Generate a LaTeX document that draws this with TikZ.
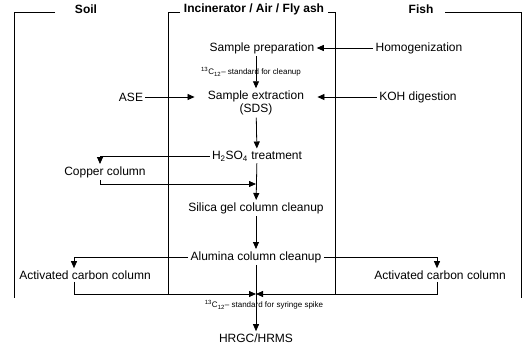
\documentclass[tikz,border=0pt]{standalone}
\usepackage{fontspec}
\setmainfont{Liberation Sans}
\usetikzlibrary{arrows.meta}

\begin{document}
\begin{tikzpicture}[x=1pt, y=-1pt, line width=.8pt,
		txt/.style={font=\fontsize{12}{13.5}\selectfont, inner sep=2pt, align=center},
		head/.style={font=\fontsize{12}{13.5}\selectfont\bfseries, inner sep=1pt},
		tiny/.style={font=\fontsize{8}{9}\selectfont, inner sep=1pt},
		arr/.style={-{Triangle[length=7pt,width=6pt]}}]
			\useasboundingbox (0,0) rectangle (528,345);
			% frames
			\node[head] (soil) at (86,9) {Soil};
			\node[head] (inc) at (254,9) {Incinerator / Air / Fly ash};
			\node[head] (fish) at (421,9) {Fish};
			\draw (55,12) -- (14,12) -- (14,298);
			\draw (180,12) -- (168,12) -- (168,294);
			\draw (328,12) -- (335,12) -- (335,294);
			\draw (445,12) -- (521,12) -- (521,298);
			
			% steps
			\node[txt] (prep) at (262,48) {Sample preparation};
			\node[txt] (homog) at (419,48) {Homogenization};
			\node[txt, inner xsep=13pt] (extr) at (256,103) {Sample extraction\\(SDS)};
			\node[txt] (ase) at (131,97) {ASE};
			\node[txt] (koh) at (418,97) {KOH digestion};
			\node[txt] (acid) at (257,156) {H\textsubscript{2}SO\textsubscript{4} treatment};
			\node[txt] (copper) at (105,172) {Copper column};
			\node[txt] (silica) at (256,208) {Silica gel column cleanup};
			\node[txt] (alumina) at (256,257) {Alumina column cleanup};
			\node[txt] (carbL) at (85,275) {Activated carbon column};
			\node[txt] (carbR) at (440,275) {Activated carbon column};
			\node[txt] (hrgc) at (256,338) {HRGC/HRMS};
			\node[tiny] (std1) at (251,72) {\textsuperscript{13}C\textsubscript{12}-- standard for cleanup};
			\node[tiny] (std2) at (264,305) {\textsuperscript{13}C\textsubscript{12}-- standard for syringe spike};
			\coordinate (merge1) at (256,184);
			\coordinate (merge2) at (256,294);
			
			% connectors
			\draw[arr] (homog) -- (prep);
			\draw[arr] (prep.south -| extr.north) -- (extr.north);
			\draw[arr] (ase) -- (extr.west |- ase);
			\draw[arr] (koh) -- (extr.east |- koh);
			\draw[arr] (extr) -- (acid);
			\draw[arr] (acid.west) -| ([xshift=-5pt]copper.north);
			\draw[arr] ([xshift=-5pt]copper.south) |- (merge1);
			\draw[arr] (acid) -- (silica);
			\draw[arr] (silica) -- (alumina);
			\draw[arr] (alumina.west) -| ([xshift=-11pt]carbL.north);
			\draw[arr] (alumina.east) -| ([xshift=-3pt]carbR.north);
			\draw[arr] ([xshift=-11pt]carbL.south) |- (merge2);
			\draw[arr] ([xshift=-3pt]carbR.south) |- (merge2);
			\draw[arr] (alumina) -- (hrgc);
		\end{tikzpicture}
\end{document}
